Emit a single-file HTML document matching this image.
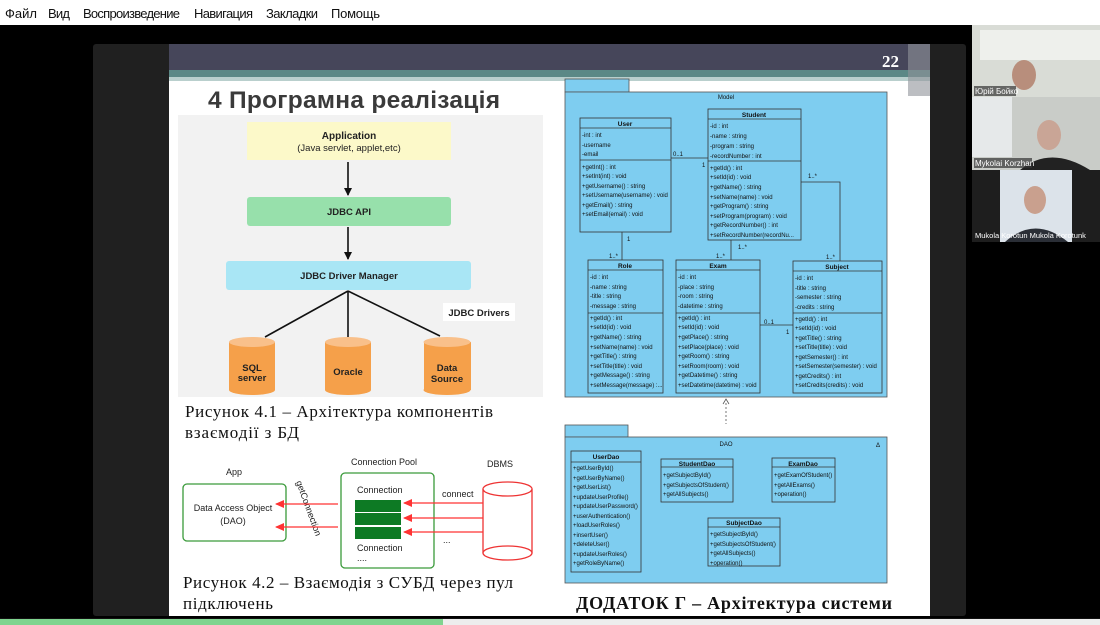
<!DOCTYPE html>
<html><head><meta charset="utf-8"><style>
html,body{margin:0;padding:0;background:#000;width:1100px;height:625px;overflow:hidden}
svg{display:block}
.u{font-family:"Liberation Sans",sans-serif;font-size:6px;fill:#111}
.ub{font-family:"Liberation Sans",sans-serif;font-size:6.5px;font-weight:bold;fill:#111}
.s{font-family:"Liberation Sans",sans-serif}
.sr{font-family:"Liberation Serif","DejaVu Serif",serif}
</style></head><body>
<svg width="1100" height="625" viewBox="0 0 1100 625" xmlns="http://www.w3.org/2000/svg">
<defs>
<marker id="ab" markerWidth="8" markerHeight="8" refX="7" refY="4" orient="auto" markerUnits="userSpaceOnUse"><path d="M0,0 L8,4 L0,8 z" fill="#111"/></marker>
<marker id="ar" markerWidth="9" markerHeight="8" refX="8" refY="4" orient="auto" markerUnits="userSpaceOnUse"><path d="M0,0 L9,4 L0,8 z" fill="#f33"/></marker>
</defs>
<rect x="0" y="0" width="1100" height="25" fill="#fff"/>
<g class="s" font-size="13" fill="#111">
<text x="5" y="18" textLength="32">Файл</text><text x="48" y="18" textLength="22">Вид</text><text x="83" y="18" textLength="97">Воспроизведение</text><text x="194" y="18" textLength="59">Навигация</text><text x="266" y="18" textLength="52">Закладки</text><text x="331" y="18" textLength="49">Помощь</text>
</g>
<rect x="93" y="44" width="873" height="572" rx="3" fill="#202020"/>
<rect x="169" y="44" width="761" height="572" fill="#fff"/>
<rect x="169" y="44" width="761" height="26" fill="#46465a"/>
<rect x="169" y="70" width="761" height="7" fill="#5b8886"/>
<rect x="169" y="77" width="761" height="4" fill="#b9cfcd"/>
<rect x="908" y="44" width="22" height="52" fill="#8f939a" opacity="0.6"/>
<text x="882" y="67" class="sr" font-size="17" font-weight="bold" fill="#fff">22</text>
<text x="208" y="108" class="s" font-size="24.5" font-weight="bold" fill="#3a3a3a" textLength="292">4 Програмна реалізація</text>

<rect x="178" y="115" width="365" height="282" fill="#f2f2f2"/>
<rect x="247" y="122" width="204" height="38" fill="#fcf9c9"/>
<text x="349" y="139" text-anchor="middle" class="s" font-size="10" font-weight="bold" fill="#222">Application</text>
<text x="349" y="151" text-anchor="middle" class="s" font-size="9.5" fill="#222">(Java servlet, applet,etc)</text>
<line x1="348" y1="162" x2="348" y2="195" stroke="#111" stroke-width="1.6" marker-end="url(#ab)"/>
<rect x="247" y="197" width="204" height="29" rx="3" fill="#97e0ab"/>
<text x="349" y="215" text-anchor="middle" class="s" font-size="9.5" font-weight="bold" fill="#222">JDBC API</text>
<line x1="348" y1="227" x2="348" y2="259" stroke="#111" stroke-width="1.6" marker-end="url(#ab)"/>
<rect x="226" y="261" width="245" height="29" rx="3" fill="#a9e6f5"/>
<text x="349" y="279" text-anchor="middle" class="s" font-size="9.5" font-weight="bold" fill="#222">JDBC Driver Manager</text>
<g stroke="#111" stroke-width="1.6"><line x1="348" y1="291" x2="265" y2="337"/><line x1="348" y1="291" x2="348" y2="337"/><line x1="348" y1="291" x2="440" y2="336"/></g>
<rect x="443" y="303" width="72" height="18" fill="#fff"/>
<text x="479" y="316" text-anchor="middle" class="s" font-size="9.5" font-weight="bold" fill="#222">JDBC Drivers</text>
<g fill="#f5a04a">
<rect x="229" y="342" width="46" height="48"/><ellipse cx="252" cy="390" rx="23" ry="5"/>
<rect x="325" y="342" width="46" height="48"/><ellipse cx="348" cy="390" rx="23" ry="5"/>
<rect x="424" y="342" width="47" height="48"/><ellipse cx="447" cy="390" rx="23.5" ry="5"/>
</g>
<g fill="#f9c08a"><ellipse cx="252" cy="342" rx="23" ry="5"/><ellipse cx="348" cy="342" rx="23" ry="5"/><ellipse cx="447" cy="342" rx="23.5" ry="5"/></g>
<g class="s" font-size="9.5" font-weight="bold" fill="#222" text-anchor="middle">
<text x="252" y="371">SQL</text><text x="252" y="381">server</text>
<text x="348" y="375">Oracle</text>
<text x="447" y="371">Data</text><text x="447" y="382">Source</text>
</g>
<g class="sr" font-size="17" fill="#111">
<text x="185" y="417" textLength="308">Рисунок 4.1 – Архітектура компонентів</text>
<text x="185" y="438" textLength="114">взаємодії з БД</text>
</g>

<g class="s" font-size="9" fill="#222">
<text x="234" y="475" text-anchor="middle">App</text>
<text x="384" y="465" text-anchor="middle">Connection Pool</text>
<text x="500" y="467" text-anchor="middle">DBMS</text>
<text x="233" y="511" text-anchor="middle">Data Access Object</text>
<text x="233" y="524" text-anchor="middle">(DAO)</text>
<text x="357" y="493">Connection</text>
<text x="357" y="551">Connection</text>
<text x="357" y="561">....</text>
<text x="442" y="497">connect</text>
<text x="443" y="543">...</text>
<text x="510" y="524" text-anchor="middle">Database</text>
<text transform="translate(296,482) rotate(70)">getConnection</text>
</g>
<rect x="183" y="484" width="103" height="57" rx="4" fill="none" stroke="#3a9a3a" stroke-width="1.3"/>
<rect x="341" y="473" width="93" height="95" rx="4" fill="none" stroke="#3a9a3a" stroke-width="1.3"/>
<g fill="#0d7a24"><rect x="355" y="500" width="46" height="12"/><rect x="355" y="513" width="46" height="12"/><rect x="355" y="527" width="46" height="12"/></g>
<g stroke="#e33" stroke-width="1.3" fill="#fff">
<path d="M483,489 v64 a24.5,7 0 0 0 49,0 v-64"/>
<ellipse cx="507.5" cy="489" rx="24.5" ry="7"/>
<path d="M483,553 a24.5,7 0 0 1 49,0" fill="none"/>
</g>
<g stroke="#f33" stroke-width="1.3" marker-end="url(#ar)">
<line x1="483" y1="503" x2="404" y2="503"/><line x1="483" y1="518" x2="404" y2="518"/><line x1="483" y1="532" x2="404" y2="532"/>
<line x1="338" y1="504" x2="276" y2="504"/><line x1="338" y1="527" x2="276" y2="527"/>
</g>
<g class="sr" font-size="17" fill="#111">
<text x="183" y="588" textLength="330">Рисунок 4.2 – Взаємодія з СУБД через пул</text>
<text x="183" y="609" textLength="90">підключень</text>
</g>

<g stroke="#555" stroke-width="0.8" fill="#7ecdf0">
<rect x="565" y="79" width="64" height="13"/>
<rect x="565" y="92" width="322" height="305"/>
</g>
<text x="726" y="99" text-anchor="middle" class="u">Model</text>
<g stroke="#333" stroke-width="0.8" fill="#7ecdf0">
<rect x="580" y="118" width="91" height="114"/><line x1="580" y1="128" x2="671" y2="128"/><line x1="580" y1="160" x2="671" y2="160"/>
<rect x="708" y="109" width="93" height="131"/><line x1="708" y1="119" x2="801" y2="119"/><line x1="708" y1="161" x2="801" y2="161"/>
<rect x="588" y="260" width="75" height="133"/><line x1="588" y1="270" x2="663" y2="270"/><line x1="588" y1="313" x2="663" y2="313"/>
<rect x="676" y="260" width="84" height="133"/><line x1="676" y1="270" x2="760" y2="270"/><line x1="676" y1="313" x2="760" y2="313"/>
<rect x="793" y="261" width="89" height="132"/><line x1="793" y1="271" x2="882" y2="271"/><line x1="793" y1="313" x2="882" y2="313"/>
</g>
<g stroke="#333" stroke-width="0.8" fill="none">
<line x1="671" y1="158" x2="708" y2="158"/>
<line x1="622" y1="232" x2="622" y2="260"/>
<line x1="731" y1="240" x2="731" y2="260"/>
<polyline points="801,182 840,182 840,261"/>
<line x1="760" y1="325" x2="793" y2="325"/>
</g>
<g class="u">
<text x="673" y="156">0..1</text><text x="702" y="167">1</text>
<text x="627" y="241">1</text><text x="609" y="258">1..*</text>
<text x="738" y="249">1..*</text><text x="716" y="258">1..*</text>
<text x="808" y="178">1..*</text><text x="826" y="259">1..*</text>
<text x="764" y="324">0..1</text><text x="786" y="334">1</text>
</g>
<g class="ub" text-anchor="middle">
<text x="625" y="126">User</text><text x="754" y="117">Student</text><text x="625" y="268">Role</text><text x="718" y="268">Exam</text><text x="837" y="269">Subject</text>
</g>
<g class="u">
<text x="582" y="137">-int : int</text><text x="582" y="147">-username</text><text x="582" y="156">-email</text>
<text x="582" y="169">+getInt() : int</text><text x="582" y="178">+setInt(int) : void</text><text x="582" y="188">+getUsername() : string</text><text x="582" y="197">+setUsername(username) : void</text><text x="582" y="207">+getEmail() : string</text><text x="582" y="216">+setEmail(email) : void</text>
<text x="710" y="128">-id : int</text><text x="710" y="138">-name : string</text><text x="710" y="148">-program : string</text><text x="710" y="158">-recordNumber : int</text>
<text x="710" y="170">+getId() : int</text><text x="710" y="179">+setId(id) : void</text><text x="710" y="189">+getName() : string</text><text x="710" y="199">+setName(name) : void</text><text x="710" y="208">+getProgram() : string</text><text x="710" y="218">+setProgram(program) : void</text><text x="710" y="227">+getRecordNumber() : int</text><text x="710" y="237">+setRecordNumber(recordNu...</text>
<text x="590" y="279">-id : int</text><text x="590" y="289">-name : string</text><text x="590" y="298">-title : string</text><text x="590" y="308">-message : string</text>
<text x="590" y="320">+getId() : int</text><text x="590" y="329">+setId(id) : void</text><text x="590" y="339">+getName() : string</text><text x="590" y="349">+setName(name) : void</text><text x="590" y="358">+getTitle() : string</text><text x="590" y="368">+setTitle(title) : void</text><text x="590" y="377">+getMessage() : string</text><text x="590" y="387">+setMessage(message) :...</text>
<text x="678" y="279">-id : int</text><text x="678" y="289">-place : string</text><text x="678" y="298">-room : string</text><text x="678" y="308">-datetime : string</text>
<text x="678" y="320">+getId() : int</text><text x="678" y="329">+setId(id) : void</text><text x="678" y="339">+getPlace() : string</text><text x="678" y="349">+setPlace(place) : void</text><text x="678" y="358">+getRoom() : string</text><text x="678" y="368">+setRoom(room) : void</text><text x="678" y="377">+getDatetime() : string</text><text x="678" y="387">+setDatetime(datetime) : void</text>
<text x="795" y="280">-id : int</text><text x="795" y="290">-title : string</text><text x="795" y="299">-semester : string</text><text x="795" y="309">-credits : string</text>
<text x="795" y="321">+getId() : int</text><text x="795" y="330">+setId(id) : void</text><text x="795" y="340">+getTitle() : string</text><text x="795" y="349">+setTitle(title) : void</text><text x="795" y="359">+getSemester() : int</text><text x="795" y="368">+setSemester(semester) : void</text><text x="795" y="378">+getCredits() : int</text><text x="795" y="387">+setCredits(credits) : void</text>
</g>
<line x1="726" y1="403" x2="726" y2="424" stroke="#555" stroke-width="0.8" stroke-dasharray="2,2"/>
<path d="M723,404 L726,399 L729,404" fill="none" stroke="#555" stroke-width="0.8"/>

<g stroke="#555" stroke-width="0.8" fill="#7ecdf0">
<rect x="565" y="425" width="63" height="12"/>
<rect x="565" y="437" width="322" height="146"/>
</g>
<text x="726" y="446" text-anchor="middle" class="u">DAO</text>
<text x="876" y="447" class="u" font-size="8">Δ</text>
<g stroke="#333" stroke-width="0.8" fill="#7ecdf0">
<rect x="571" y="451" width="70" height="121"/><line x1="571" y1="462" x2="641" y2="462"/>
<rect x="661" y="459" width="72" height="43"/><line x1="661" y1="467" x2="733" y2="467"/>
<rect x="772" y="458" width="63" height="44"/><line x1="772" y1="467" x2="835" y2="467"/>
<rect x="708" y="518" width="72" height="48"/><line x1="708" y1="527" x2="780" y2="527"/>
</g>
<g class="ub" text-anchor="middle">
<text x="606" y="459">UserDao</text><text x="697" y="466">StudentDao</text><text x="803" y="466">ExamDao</text><text x="744" y="525">SubjectDao</text>
</g>
<g class="u">
<text x="573" y="470">+getUserById()</text><text x="573" y="480">+getUserByName()</text><text x="573" y="489">+getUserList()</text><text x="573" y="499">+updateUserProfile()</text><text x="573" y="508">+updateUserPassword()</text><text x="573" y="518">+userAuthentication()</text><text x="573" y="527">+loadUserRoles()</text><text x="573" y="537">+insertUser()</text><text x="573" y="546">+deleteUser()</text><text x="573" y="556">+updateUserRoles()</text><text x="573" y="565">+getRoleByName()</text>
<text x="663" y="477">+getSubjectById()</text><text x="663" y="487">+getSubjectsOfStudent()</text><text x="663" y="496">+getAllSubjects()</text>
<text x="774" y="477">+getExamOfStudent()</text><text x="774" y="487">+getAllExams()</text><text x="774" y="496">+operation()</text>
<text x="710" y="536">+getSubjectById()</text><text x="710" y="546">+getSubjectsOfStudent()</text><text x="710" y="555">+getAllSubjects()</text><text x="710" y="565">+operation()</text>
</g>
<text x="576" y="609" class="sr" font-size="18" font-weight="bold" fill="#111" textLength="316">ДОДАТОК Г – Архітектура системи</text>

<rect x="972" y="25" width="128" height="72" fill="#d9dcd6"/>
<rect x="980" y="30" width="120" height="30" fill="#eef0ec"/>
<ellipse cx="1024" cy="75" rx="12" ry="15" fill="#b88e7c"/>
<rect x="974" y="86" width="42" height="10" fill="#333" opacity="0.7"/>
<text x="975" y="94" class="s" font-size="8" fill="#fff">Юрій Бойко</text>
<rect x="972" y="97" width="128" height="73" fill="#c9ccc8"/>
<rect x="972" y="97" width="40" height="60" fill="#e6e9ea"/>
<ellipse cx="1049" cy="135" rx="12" ry="15" fill="#c9a596"/>
<path d="M1020,170 Q1050,145 1090,170 z" fill="#222"/>
<rect x="974" y="158" width="58" height="10" fill="#333" opacity="0.7"/>
<text x="975" y="166" class="s" font-size="8" fill="#fff">Mykolai Korzhan</text>
<rect x="972" y="170" width="128" height="72" fill="#1e1e1e"/>
<rect x="1000" y="170" width="72" height="72" fill="#dce3ea"/>
<ellipse cx="1035" cy="200" rx="11" ry="14" fill="#c9a08e"/>
<path d="M1005,242 Q1035,215 1068,242 z" fill="#2a2e36"/>
<text x="975" y="238" class="s" font-size="7.5" fill="#fff">Mukola Korotun Mukola Korotunk</text>

<rect x="0" y="619" width="1100" height="6" fill="#ededed"/>
<rect x="0" y="619" width="443" height="6" fill="#7fd48f"/>
<line x1="0" y1="618.5" x2="1100" y2="618.5" stroke="#111"/>
</svg>
</body></html>
